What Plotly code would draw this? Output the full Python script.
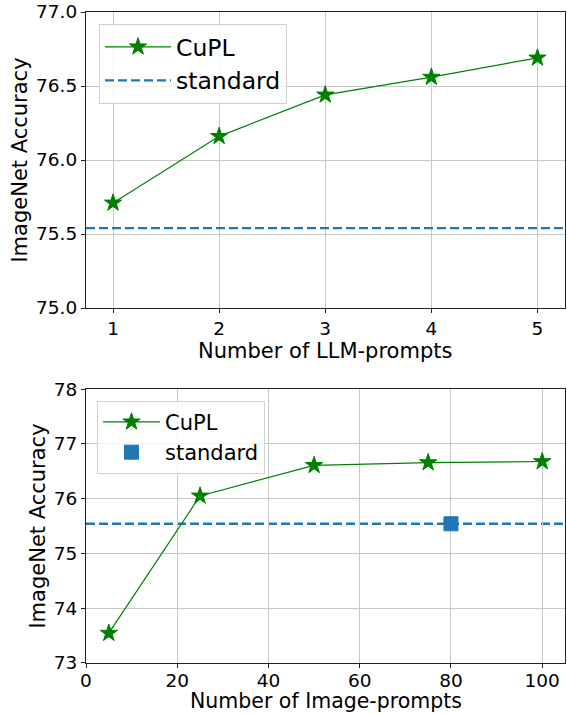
import plotly.graph_objects as go

# ---- data ----
llm_prompts = [1, 2, 3, 4, 5]
llm_cupl_acc = [75.71, 76.16, 76.44, 76.56, 76.69]
llm_standard_acc = 75.54

img_prompts = [5, 25, 50, 75, 100]
img_cupl_acc = [73.54, 76.05, 76.61, 76.66, 76.68]
img_standard_x = [80]
img_standard_acc = 75.54

top_xticks = [1, 2, 3, 4, 5]
top_yticks = [75.0, 75.5, 76.0, 76.5, 77.0]
bot_xticks = [0, 20, 40, 60, 80, 100]
bot_yticks = [73, 74, 75, 76, 77, 78]

GREEN = "#008000"
BLUE = "#1f77b4"
FONT = "DejaVu Sans"
W, H = 567, 714

def fx(px):
    return px / W

def fy(py):
    return 1 - py / H

fig = go.Figure()

# top subplot
fig.add_trace(go.Scatter(x=llm_prompts, y=llm_cupl_acc, mode="lines+markers", name="CuPL",
                         line=dict(color=GREEN, width=1.2),
                         marker=dict(symbol="star", size=13, color=GREEN, line=dict(color=GREEN, width=1)),
                         xaxis="x", yaxis="y", legend="legend"))
fig.add_trace(go.Scatter(x=[None], y=[None], mode="lines", name="standard",
                         line=dict(color=BLUE, width=2.4, dash="9px,4px"),
                         xaxis="x", yaxis="y", legend="legend"))
fig.add_shape(type="line", xref="x domain", yref="y", x0=0, x1=1,
              y0=llm_standard_acc, y1=llm_standard_acc,
              line=dict(color=BLUE, width=2.4, dash="9px,4px"), layer="above")

# bottom subplot
fig.add_shape(type="line", xref="x2 domain", yref="y2", x0=0, x1=1,
              y0=img_standard_acc, y1=img_standard_acc,
              line=dict(color=BLUE, width=2.4, dash="9px,4px"), layer="below")
fig.add_trace(go.Scatter(x=img_prompts, y=img_cupl_acc, mode="lines+markers", name="CuPL",
                         line=dict(color=GREEN, width=1.2),
                         marker=dict(symbol="star", size=13, color=GREEN, line=dict(color=GREEN, width=1)),
                         xaxis="x2", yaxis="y2", legend="legend2"))
fig.add_trace(go.Scatter(x=img_standard_x, y=[img_standard_acc], mode="markers", name="standard",
                         marker=dict(symbol="square", size=14, color=BLUE, line=dict(color=BLUE, width=1)),
                         xaxis="x2", yaxis="y2", legend="legend2"))

axis_common = dict(showline=True, linecolor="#222222", linewidth=1.2, mirror=True,
                   showgrid=True, gridcolor="#c8c8c8", gridwidth=1.2,
                   ticks="outside", ticklen=4, tickwidth=1.2, tickcolor="#222222",
                   tickfont=dict(family=FONT, size=18.5, color="black"),
                   zeroline=False, automargin=False)

fig.update_layout(
    width=W, height=H,
    margin=dict(l=0, r=0, t=0, b=0, autoexpand=False),
    paper_bgcolor="white", plot_bgcolor="white",
    font=dict(family=FONT, color="black"),
    xaxis=dict(domain=[fx(86), fx(564.5)], anchor="y", range=[0.745, 5.255],
               tickmode="array", tickvals=top_xticks,
               title=dict(text="Number of LLM-prompts", font=dict(size=21), standoff=4),
               **axis_common),
    yaxis=dict(domain=[fy(308), fy(12)], anchor="x", range=[75, 77],
               tickmode="array", tickvals=top_yticks, ticktext=[f"{v:.1f}" for v in top_yticks],
               title=dict(text="ImageNet Accuracy", font=dict(size=21), standoff=2),
               **axis_common),
    xaxis2=dict(domain=[fx(86), fx(565)], anchor="y2", range=[0, 105],
                tickmode="array", tickvals=bot_xticks, ticklabelstandoff=-3,
                **axis_common),
    yaxis2=dict(domain=[fy(662.7), fy(389.3)], anchor="x2", range=[73, 78],
                tickmode="array", tickvals=bot_yticks,
                title=dict(text="ImageNet Accuracy", font=dict(size=21), standoff=2),
                **axis_common),
    legend=dict(x=fx(99), y=fy(24), xanchor="left", yanchor="top",
                bgcolor="rgba(255,255,255,0.8)", bordercolor="#d0d0d0", borderwidth=1,
                font=dict(family=FONT, size=23.5, color="black"), itemwidth=66,
                tracegroupgap=0),
    legend2=dict(x=fx(97), y=fy(400.7), xanchor="left", yanchor="top",
                 bgcolor="rgba(255,255,255,0.8)", bordercolor="#d0d0d0", borderwidth=1,
                 font=dict(family=FONT, size=21, color="black"), itemwidth=57,
                 tracegroupgap=0),
    showlegend=True,
)

# bottom x-axis title (placed as annotation for precise vertical placement)
fig.add_annotation(text="Number of Image-prompts", xref="x2 domain", yref="paper",
                   x=0.5, y=0, xanchor="center", yanchor="bottom", showarrow=False,
                   borderpad=0, font=dict(family=FONT, size=20.5, color="black"))

fig.write_html("out.html", config={"displayModeBar": False},
               post_script="document.body.style.margin='0px';")
